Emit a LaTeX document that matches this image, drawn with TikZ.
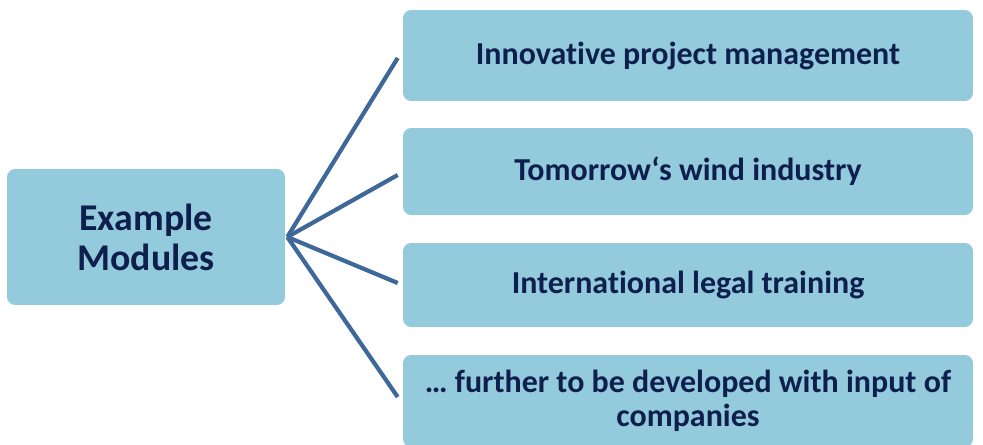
\documentclass[tikz,border=0pt]{standalone}
\usepackage{fontspec}
\setmainfont{Carlito}[Ligatures=NoCommon]
\usepackage{tikz}
\usetikzlibrary{positioning}

\definecolor{boxblue}{HTML}{93CBDC}
\definecolor{linkblue}{HTML}{3D6899}
\definecolor{textnavy}{HTML}{0E1F4E}

\begin{document}
\begin{tikzpicture}[x=0.02cm,y=-0.02cm,
    modbox/.style={rectangle,rounded corners=0.16cm,fill=boxblue,text=textnavy,
      font=\bfseries\fontsize{18.2}{19.6}\selectfont,align=center,
      minimum width=11.4cm,inner sep=0pt},
    link/.style={draw=linkblue,line width=2.4pt}]
  \useasboundingbox (0,0) rectangle (983,445);
  \node (modules) [modbox,minimum width=5.56cm,minimum height=2.72cm,
    font=\bfseries\fontsize{21.5}{22.7}\selectfont] at (146,237) {Example\\Modules};
  \node (innov) [modbox,minimum height=1.82cm] at (688,55.5) {Innovative project management};
  \node (wind) [modbox,minimum height=1.74cm] at (688,171.5) {Tomorrow‘s wind industry};
  \node (legal) [modbox,minimum height=1.68cm] at (688,285) {International legal training};
  \node (further) [modbox,minimum height=1.84cm] at (688,401) {… further to be developed with input of\\companies};

  \draw [link] ([xshift=0.04cm]modules.east) -- ([xshift=-0.1cm,yshift=-0.05cm]innov.west);
  \draw [link] ([xshift=0.04cm]modules.east) -- ([xshift=-0.1cm,yshift=-0.07cm]wind.west);
  \draw [link] ([xshift=0.04cm]modules.east) -- ([xshift=-0.1cm,yshift=0.04cm]legal.west);
  \draw [link] ([xshift=0.04cm]modules.east) -- ([xshift=-0.1cm,yshift=0.08cm]further.west);
\end{tikzpicture}
\end{document}
